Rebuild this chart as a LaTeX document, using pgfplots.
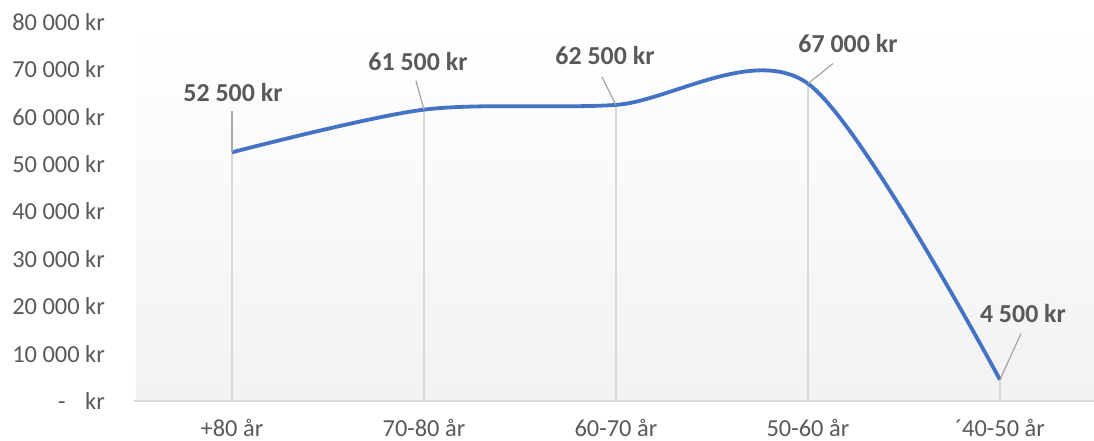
\documentclass[border=0pt]{standalone}
\usepackage{pgfplots}
\pgfplotsset{compat=1.18}
\usepackage{fontspec}
\setmainfont{Carlito}
\definecolor{lineblue}{HTML}{4472C4}
\definecolor{txt}{HTML}{595959}
\definecolor{gridc}{HTML}{D9D9D9}
\definecolor{leader}{HTML}{A6A6A6}
\definecolor{bgbot}{HTML}{F2F2F2}
\tikzset{
  lbl/.style={font=\bfseries\fontsize{26}{30}\selectfont, text=txt, inner sep=0pt, anchor=center},
  ld/.style={draw=leader, line width=1.2bp},
}
\begin{document}
\begin{tikzpicture}
\begin{axis}[
  at={(0,0)}, anchor=south west,
  scale only axis, width=958bp, height=379bp,
  xmin=-0.5, xmax=4.49, ymin=0, ymax=80000,
  clip=false,
  scaled y ticks=false,
  axis line style={draw=none},
  axis background/.style={shade, top color=white, bottom color=bgbot},
  xtick={0,1,2,3,4},
  xticklabels={+80 år, 70-80 år, 60-70 år, 50-60 år, ´40-50 år},
  ytick={0,10000,20000,30000,40000,50000,60000,70000,80000},
  yticklabels={{-\hspace{0.8em}kr}, 10 000 kr, 20 000 kr, 30 000 kr, 40 000 kr, 50 000 kr, 60 000 kr, 70 000 kr, 80 000 kr},
  major tick length=0pt,
  tick style={draw=none},
  ticklabel style={font=\fontsize{24.5}{28}\selectfont, text=txt, inner sep=0pt},
  yticklabel style={anchor=east, xshift=-31bp},
  xticklabel style={anchor=north, yshift=-18bp},
]
\draw[gridc, line width=1.8bp] (axis cs:-0.51,0) -- (axis cs:4.49,0);
\addplot[ycomb, draw=gridc, line width=1.5bp, mark=none] coordinates {(0,52500)(1,61500)(2,62500)(3,67000)(4,4500)};
\addplot[lineblue, line width=3.8bp, smooth, tension=0.5, mark=none] coordinates {(0,52500)(1,61500)(2,62500)(3,67000)(4,4500)};
\draw[ld] (axis cs:0,52500) -- ++(0bp,41bp);
\path (axis cs:0,52500) ++(1bp,60bp) node[lbl]{52 500 kr};
\draw[ld] (axis cs:1,61500) -- ++(-8bp,29bp);
\path (axis cs:1,61500) ++(-6bp,48bp) node[lbl]{61 500 kr};
\draw[ld] (axis cs:2,62500) -- ++(-14bp,28bp);
\path (axis cs:2,62500) ++(-11bp,49bp) node[lbl]{62 500 kr};
\draw[ld] (axis cs:3,67000) -- ++(25bp,20bp);
\path (axis cs:3,67000) ++(40bp,40bp) node[lbl]{67 000 kr};
\draw[ld] (axis cs:4,4500) -- ++(21bp,46bp);
\path (axis cs:4,4500) ++(23bp,66bp) node[lbl]{4 500 kr};
\end{axis}
\pgfresetboundingbox
\path (-136bp,-40bp) rectangle (958bp,401bp);
\end{tikzpicture}
\end{document}
